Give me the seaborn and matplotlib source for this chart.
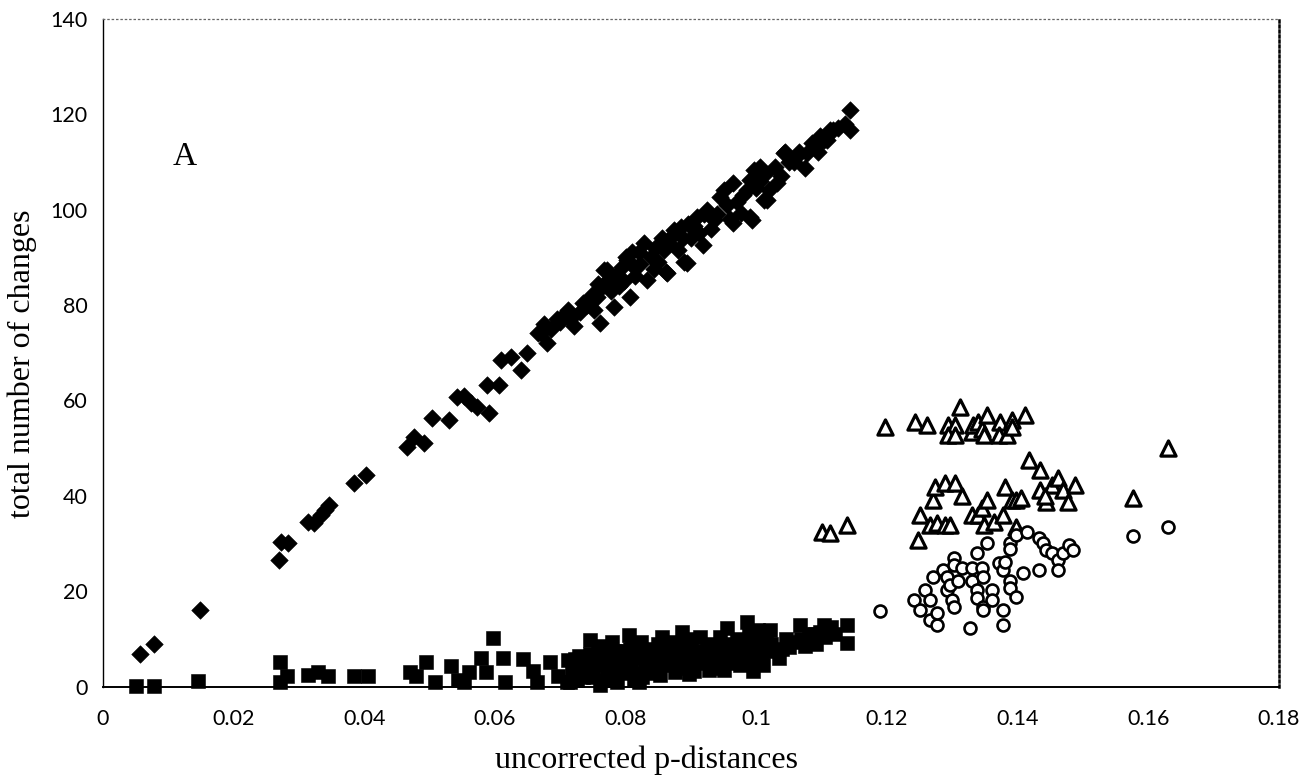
import matplotlib
matplotlib.use("Agg")
import matplotlib.pyplot as plt
import seaborn as sns
import pandas as pd

# ---- data: (p-distance, total number of changes) per comparison class ----
diamond_x = [0.0056, 0.0078, 0.0148, 0.0270, 0.0272, 0.0283, 0.0313, 0.0323, 0.0333, 0.0340,
             0.0346, 0.0384, 0.0402, 0.0466, 0.0476, 0.0491, 0.0504, 0.0530, 0.0542, 0.0552,
             0.0563, 0.0573, 0.0591, 0.0588, 0.0606, 0.0609, 0.0624, 0.0639, 0.0649, 0.0665,
             0.0670, 0.0680, 0.0685, 0.0695, 0.0705, 0.0711, 0.0721, 0.0730, 0.0740, 0.0748,
             0.0756, 0.0761, 0.0765, 0.0767, 0.0772, 0.0775, 0.0782, 0.0790, 0.0795, 0.0800,
             0.0802, 0.0807, 0.0812, 0.0815, 0.0820, 0.0828, 0.0833, 0.0845, 0.0850, 0.0855,
             0.0861, 0.0863, 0.0869, 0.0874, 0.0884, 0.0889, 0.0894, 0.0895, 0.0900, 0.0909,
             0.0919, 0.0920, 0.0930, 0.0935, 0.0945, 0.0955, 0.0960, 0.0965, 0.0965, 0.0976,
             0.0985, 0.0991, 0.0991, 0.0993, 0.0996, 0.1005, 0.1006, 0.1011, 0.1016, 0.1020,
             0.1032, 0.1042, 0.1044, 0.1050, 0.1057, 0.1065, 0.1075, 0.1078, 0.1090, 0.1098,
             0.1103, 0.1108, 0.1113, 0.1118, 0.1125, 0.1143, 0.1143,
             0.0675, 0.0700, 0.0715, 0.0735, 0.0752, 0.0758, 0.0778, 0.0785, 0.0798, 0.0810,
             0.0822, 0.0838, 0.0843, 0.0858, 0.0866, 0.0880, 0.0887, 0.0905, 0.0912, 0.0925,
             0.0940, 0.0950, 0.0970, 0.0980, 0.1000, 0.1013, 0.1028, 0.1038, 0.1060, 0.1085,
             0.1095, 0.1135]
diamond_y = [7.0, 9.1, 16.1, 26.6, 30.4, 30.2, 34.6, 34.3, 36.0, 37.0,
             38.1, 42.7, 44.4, 50.3, 52.4, 51.0, 56.3, 55.9, 60.8, 61.0,
             59.4, 58.7, 57.3, 63.2, 63.2, 68.5, 69.2, 66.4, 69.9, 74.1,
             74.1, 72.0, 75.0, 77.0, 78.0, 79.0, 75.5, 78.5, 80.0, 82.0,
             81.7, 76.2, 84.0, 87.3, 87.3, 85.5, 79.6, 84.0, 88.0, 90.0,
             89.4, 81.7, 88.0, 86.0, 91.0, 92.9, 85.2, 92.0, 89.0, 94.0,
             87.0, 86.6, 94.3, 95.7, 96.4, 89.0, 88.7, 97.0, 94.0, 98.5,
             92.6, 99.0, 96.0, 97.8, 102.7, 101.0, 98.0, 105.5, 97.1, 99.2,
             104.0, 98.5, 106.2, 97.8, 108.3, 106.0, 109.0, 102.0, 102.0, 104.0,
             105.5, 111.8, 112.0, 110.0, 110.0, 112.0, 108.6, 111.8, 113.0, 115.3,
             114.6, 114.6, 116.6, 116.6, 117.0, 120.8, 116.6,
             76.0, 76.5, 77.0, 80.5, 79.0, 84.5, 83.0, 86.0, 85.0, 91.0,
             88.5, 90.0, 87.5, 91.5, 93.0, 91.5, 94.0, 96.5, 95.0, 100.0,
             99.0, 104.0, 101.5, 103.0, 104.5, 107.5, 109.0, 107.0, 111.0, 114.0,
             112.0, 118.0]

square_x = [0.0050, 0.0078, 0.0146, 0.0271, 0.0271, 0.0281, 0.0313, 0.0329, 0.0345, 0.0384,
            0.0405, 0.0470, 0.0479, 0.0495, 0.0508, 0.0533, 0.0544, 0.0553, 0.0560, 0.0578,
            0.0586, 0.0597, 0.0612, 0.0616, 0.0643, 0.0658, 0.0664, 0.0684, 0.0697, 0.0710,
            0.0711, 0.0715, 0.0718, 0.0723, 0.0728, 0.0730, 0.0735, 0.0738,
            0.0740, 0.0745, 0.0745, 0.0745, 0.0758, 0.0760, 0.0761, 0.0770, 0.0772, 0.0775,
            0.0779, 0.0780, 0.0787, 0.0792, 0.0795, 0.0805, 0.0806, 0.0808, 0.0812, 0.0815,
            0.0818, 0.0820, 0.0823, 0.0828, 0.0830, 0.0840, 0.0842, 0.0845, 0.0856, 0.0858,
            0.0860, 0.0870, 0.0872, 0.0875, 0.0886, 0.0888, 0.0890, 0.0892, 0.0900, 0.0903,
            0.0905, 0.0914, 0.0916, 0.0920, 0.0930, 0.0932, 0.0935, 0.0945, 0.0948, 0.0950,
            0.0955, 0.0958, 0.0960, 0.0970, 0.0972, 0.0975, 0.0986, 0.0988, 0.0990, 0.0992,
            0.0995, 0.1003, 0.1005, 0.1008, 0.1010, 0.1021, 0.1023, 0.1028, 0.1034, 0.1045,
            0.1050, 0.1067, 0.1068, 0.1075, 0.1090, 0.1092, 0.1103, 0.1105, 0.1120, 0.1139,
            0.1139,
            0.0725, 0.0750, 0.0752, 0.0765, 0.0783, 0.0798, 0.0800, 0.0810, 0.0825, 0.0835,
            0.0850, 0.0852, 0.0865, 0.0868, 0.0880, 0.0882, 0.0895, 0.0897, 0.0910, 0.0925,
            0.0927, 0.0940, 0.0940, 0.0965, 0.0965, 0.0980, 0.0982, 0.0998, 0.1015, 0.1040,
            0.1058, 0.1080, 0.1097, 0.1115]
square_y = [0.3, 0.3, 1.2, 5.3, 1.0, 2.4, 2.5, 3.1, 2.4, 2.4,
            2.4, 3.1, 2.3, 5.3, 1.0, 4.3, 1.4, 1.0, 3.1, 6.1,
            3.1, 10.2, 6.1, 1.0, 5.9, 3.4, 1.0, 5.2, 2.4, 1.0,
            5.7, 1.0, 3.0, 5.9, 6.5, 3.8, 2.0, 4.0,
            5.0, 9.8, 7.0, 3.0, 7.5, 5.0, 0.4, 1.5, 4.0, 6.0,
            9.5, 3.0, 1.1, 5.0, 7.5, 10.9, 8.0, 4.0, 1.5, 6.0,
            3.0, 1.0, 9.5, 7.0, 4.5, 8.0, 5.5, 3.0, 10.5, 7.0,
            4.5, 8.0, 5.5, 3.2, 11.6, 9.0, 6.5, 4.0, 8.0, 5.5,
            3.3, 10.5, 7.5, 5.0, 9.0, 6.5, 4.0, 10.5, 7.5, 3.5,
            12.3, 9.0, 6.0, 10.0, 7.5, 4.5, 13.7, 11.0, 8.0, 5.5,
            3.3, 12.0, 9.5, 7.0, 4.5, 11.9, 9.0, 7.5, 6.0, 10.0,
            8.3, 13.0, 10.0, 8.5, 11.0, 9.0, 13.0, 10.5, 11.0, 13.0,
            9.2,
            1.5, 2.0, 4.5, 8.5, 7.5, 3.0, 6.0, 9.0, 2.0, 6.0,
            9.0, 2.5, 6.0, 9.5, 7.0, 4.5, 10.0, 2.8, 6.5, 8.0,
            3.5, 5.5, 8.5, 5.0, 8.5, 6.5, 9.5, 10.0, 10.5, 8.0,
            9.5, 11.0, 11.5, 12.5]

triangle_x = [0.1100, 0.1113, 0.1139, 0.1197, 0.1243, 0.1261, 0.1248, 0.1251, 0.1266, 0.1271,
              0.1274, 0.1276, 0.1289, 0.1289, 0.1297, 0.1304, 0.1315, 0.1294, 0.1304, 0.1294,
              0.1304, 0.1312, 0.1330, 0.1332, 0.1340, 0.1345, 0.1348, 0.1353, 0.1373, 0.1391,
              0.1371, 0.1383, 0.1391, 0.1411, 0.1330, 0.1340, 0.1345, 0.1348, 0.1353, 0.1363,
              0.1378, 0.1381, 0.1391, 0.1398, 0.1405, 0.1398, 0.1417, 0.1434, 0.1434, 0.1444,
              0.1452, 0.1462, 0.1470, 0.1477, 0.1488, 0.1442, 0.1577, 0.1630]
triangle_y = [32.5, 32.2, 34.0, 54.5, 55.6, 54.9, 30.8, 36.0, 33.9, 39.2,
              41.9, 34.3, 42.8, 33.9, 33.9, 42.7, 39.9, 54.9, 54.9, 52.8,
              52.8, 58.7, 53.5, 54.9, 55.6, 54.0, 52.8, 57.0, 55.6, 55.9,
              52.8, 52.8, 54.5, 57.0, 36.0, 36.0, 37.4, 33.9, 39.2, 34.6,
              36.0, 41.9, 39.2, 39.2, 39.5, 33.6, 47.5, 45.4, 41.3, 38.8,
              42.3, 43.7, 41.3, 38.8, 42.3, 40.0, 39.5, 50.0]

circle_x = [0.1189, 0.1241, 0.1251, 0.1258, 0.1266, 0.1266, 0.1276, 0.1276, 0.1271, 0.1286,
            0.1292, 0.1292, 0.1299, 0.1302, 0.1297, 0.1309, 0.1302, 0.1302, 0.1315, 0.1330,
            0.1330, 0.1337, 0.1337, 0.1345, 0.1347, 0.1347, 0.1347, 0.1360, 0.1360, 0.1337,
            0.1353, 0.1378, 0.1378, 0.1327, 0.1371, 0.1378, 0.1381, 0.1388, 0.1388, 0.1398,
            0.1388, 0.1388, 0.1398, 0.1414, 0.1408, 0.1432, 0.1432, 0.1439, 0.1444, 0.1452,
            0.1462, 0.1462, 0.1470, 0.1478, 0.1485, 0.1577, 0.1630]
circle_y = [16.0, 18.2, 16.1, 20.3, 18.2, 14.0, 13.0, 15.4, 23.1, 24.5,
            23.1, 20.3, 18.2, 16.8, 21.4, 22.1, 27.0, 25.6, 24.9, 24.9,
            22.1, 20.3, 18.6, 24.9, 23.1, 16.8, 16.1, 20.3, 18.2, 28.0,
            30.1, 16.1, 13.0, 12.3, 25.9, 24.5, 26.2, 22.1, 20.7, 18.9,
            30.1, 29.0, 31.8, 32.5, 23.8, 31.1, 24.5, 30.1, 28.7, 28.0,
            26.6, 24.5, 28.0, 29.7, 28.7, 31.6, 33.6]

x_ticks = [0, 0.02, 0.04, 0.06, 0.08, 0.1, 0.12, 0.14, 0.16, 0.18]
x_tick_labels = ["0", "0.02", "0.04", "0.06", "0.08", "0.1", "0.12", "0.14", "0.16", "0.18"]
y_ticks = [0, 20, 40, 60, 80, 100, 120, 140]
y_tick_labels = ["0", "20", "40", "60", "80", "100", "120", "140"]

x_label = "uncorrected p-distances"
y_label = "total number of changes"
panel_label = "A"

# ---- figure ----
sns.set_theme(style="white")
plt.rcParams["font.family"] = ["Lato", "DejaVu Sans"]

fig = plt.figure(figsize=(13.16, 7.78), dpi=100)
ax = fig.add_axes([0.0783, 0.1170, 0.8936, 0.8592])

df_d = pd.DataFrame({"x": diamond_x, "y": diamond_y})
df_s = pd.DataFrame({"x": square_x, "y": square_y})
df_t = pd.DataFrame({"x": triangle_x, "y": triangle_y})
df_c = pd.DataFrame({"x": circle_x, "y": circle_y})

sns.scatterplot(data=df_d, x="x", y="y", ax=ax, marker="D", s=80,
                color="black", edgecolor="black", linewidth=0.4, clip_on=False, zorder=3)
sns.scatterplot(data=df_s, x="x", y="y", ax=ax, marker="s", s=108,
                color="black", edgecolor="black", linewidth=0.4, clip_on=False, zorder=3)
sns.scatterplot(data=df_t, x="x", y="y", ax=ax, marker="^", s=120,
                color="white", edgecolor="black", linewidth=2.3, clip_on=False, zorder=3)
sns.scatterplot(data=df_c, x="x", y="y", ax=ax, marker="o", s=74,
                color="white", edgecolor="black", linewidth=1.9, clip_on=False, zorder=4)

ax.set_xlim(0, 0.18)
ax.set_ylim(0, 140)
ax.set_xticks(x_ticks)
ax.set_xticklabels(x_tick_labels)
ax.set_yticks(y_ticks)
ax.set_yticklabels(y_tick_labels)
ax.tick_params(axis="both", direction="inout", length=10, width=1.0,
               color="black", labelsize=15.5, labelcolor="black")
ax.tick_params(axis="x", pad=11)
ax.tick_params(axis="y", pad=6)

# frame: solid left/bottom, dotted top/right
ax.spines["left"].set_color("black")
ax.spines["left"].set_linewidth(1.0)
ax.spines["bottom"].set_color("black")
ax.spines["bottom"].set_linewidth(1.4)
ax.spines["top"].set_color("#666666")
ax.spines["top"].set_linewidth(0.9)
ax.spines["top"].set_linestyle((0, (1, 2.5)))
ax.spines["right"].set_color("black")
ax.spines["right"].set_linewidth(1.8)
ax.spines["right"].set_linestyle((0, (0.8, 1.2)))

serif = ["Liberation Serif", "DejaVu Serif"]
ax.set_xlabel(x_label, fontsize=23, family=serif, color="black")
ax.set_ylabel(y_label, fontsize=23, family=serif, color="black", va="center")
ax.xaxis.set_label_coords(0.462, -0.088)
ax.yaxis.set_label_coords(-0.069, 0.4835)

ax.text(0.0125, 111, panel_label, fontsize=24, family=serif, color="black",
        ha="center", va="center")

ax.grid(False)
fig.savefig("out.png", dpi=100, facecolor="white")
